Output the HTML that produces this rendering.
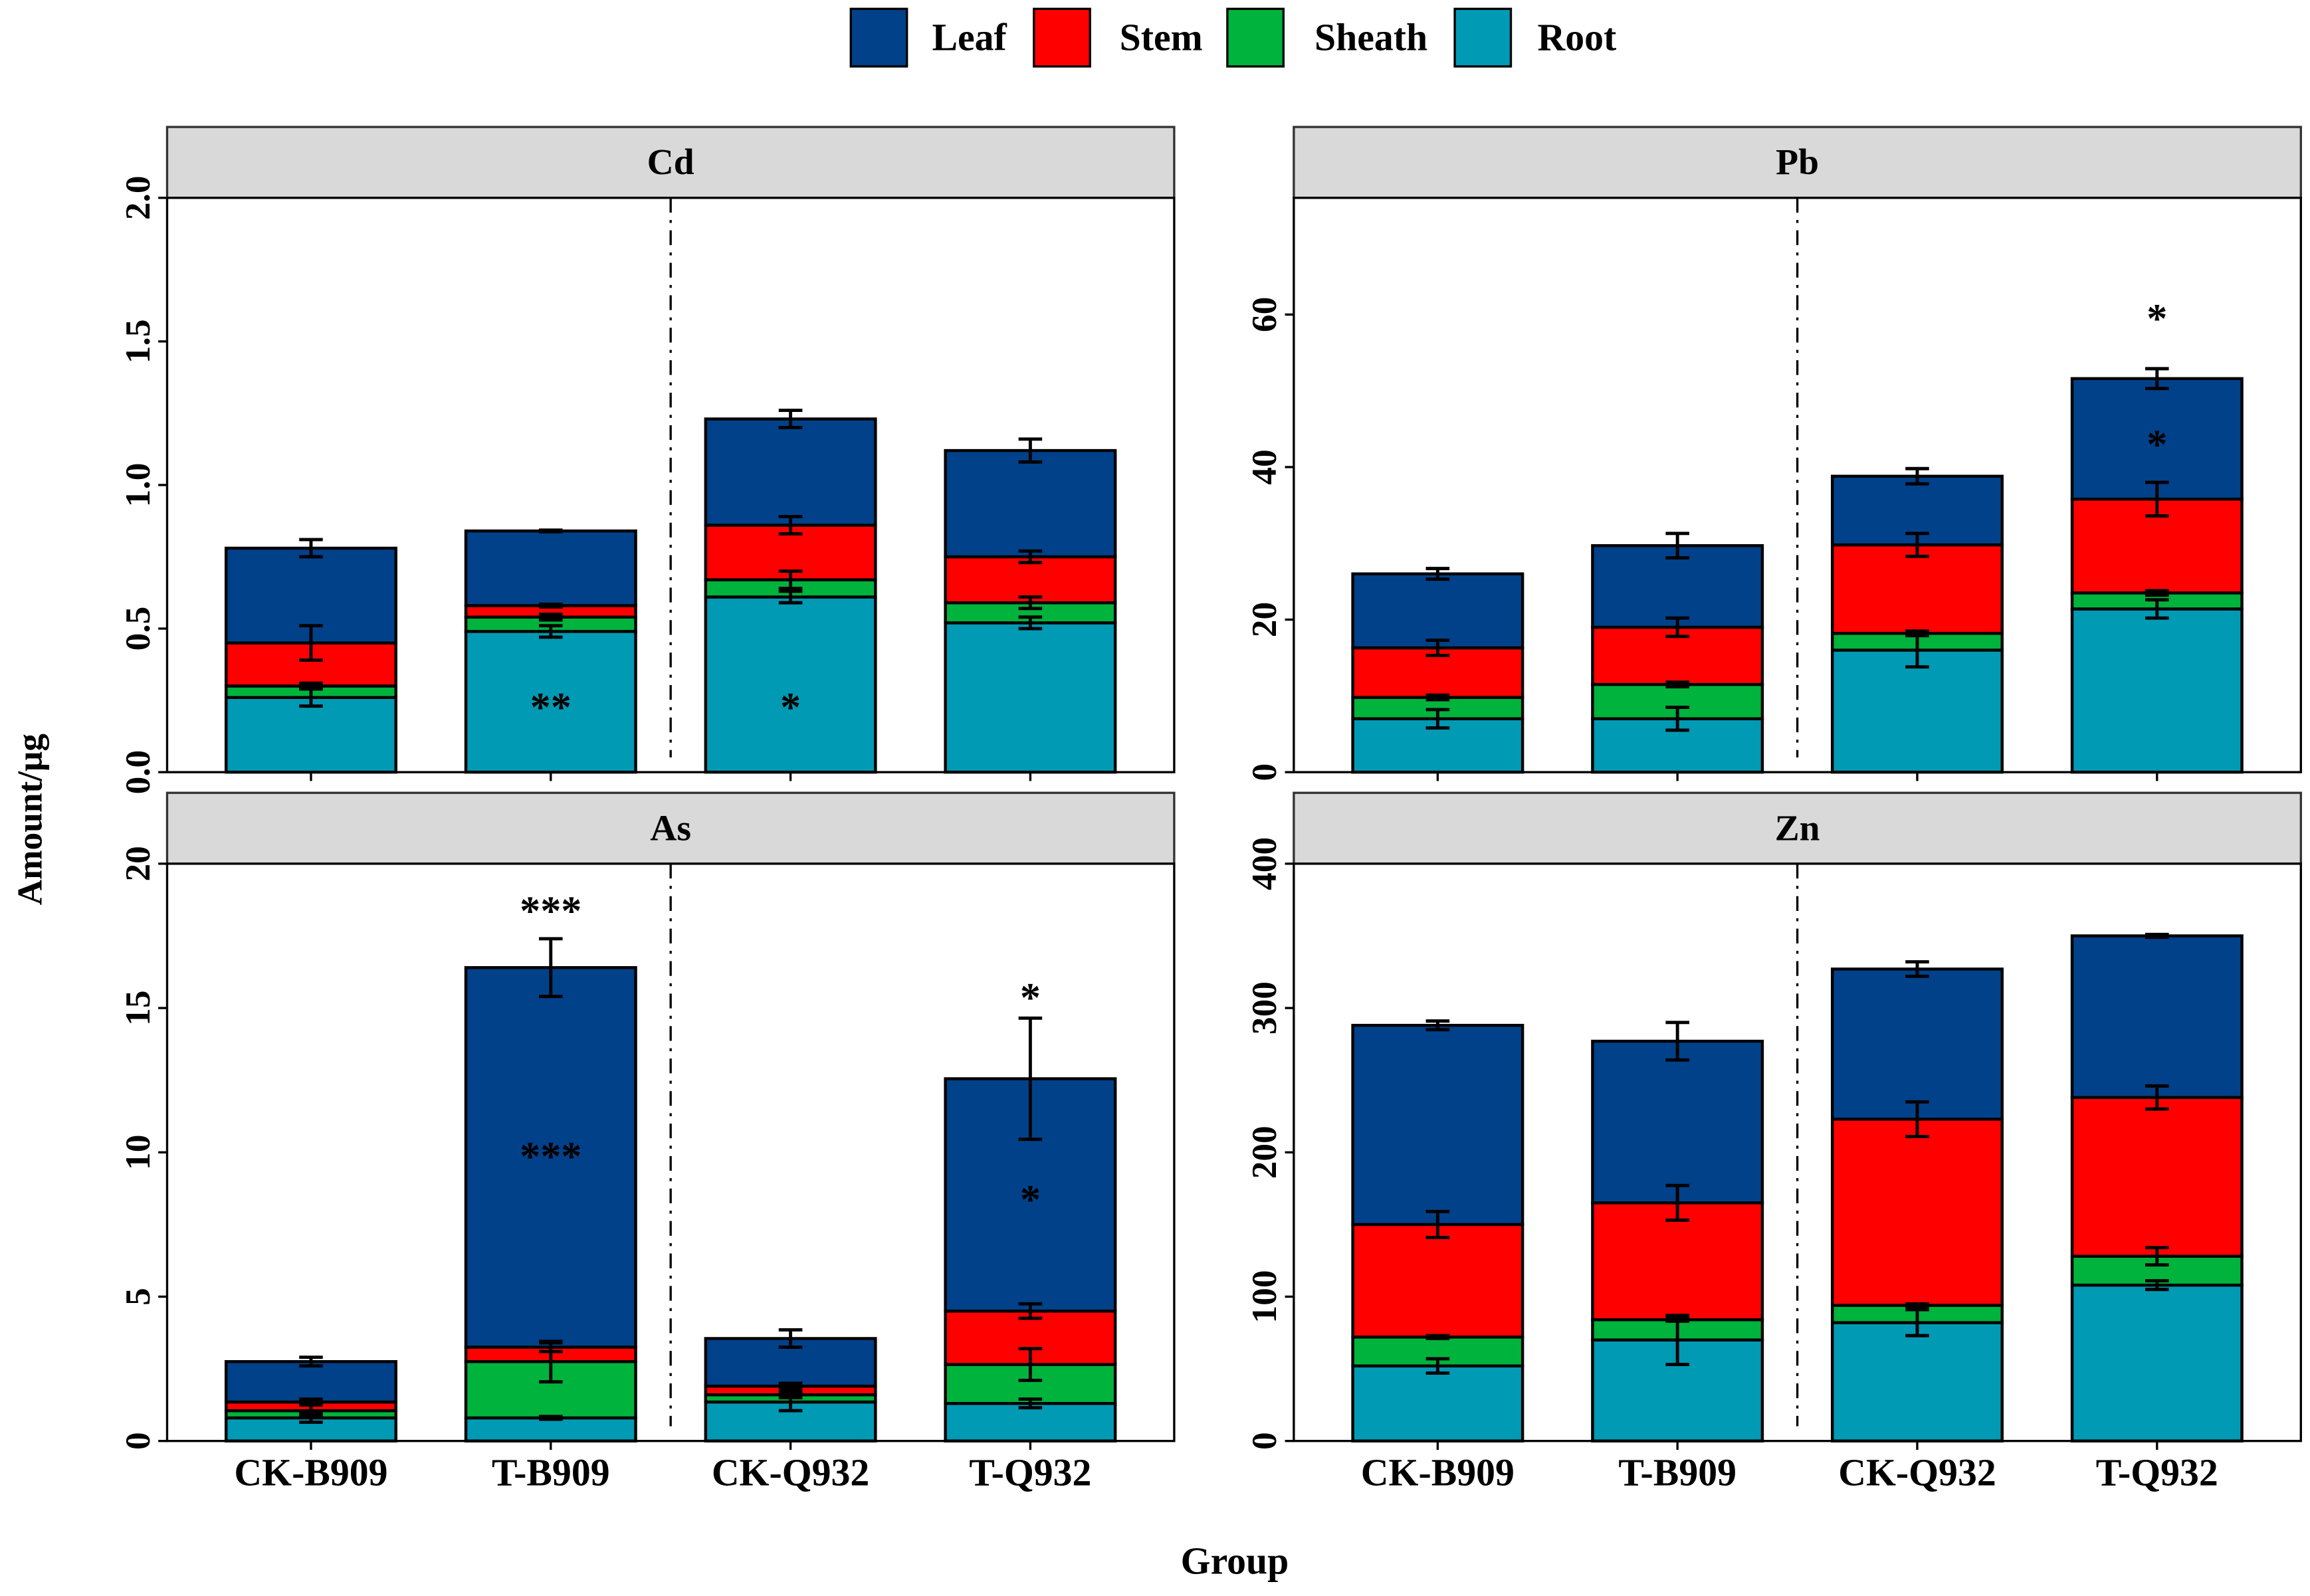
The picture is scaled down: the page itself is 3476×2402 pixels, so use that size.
<!DOCTYPE html>
<html><head><meta charset="utf-8"><title>Stacked metal amounts by tissue</title>
<style>html,body{margin:0;padding:0;background:#fff}svg{display:block}text{font-family:"Liberation Serif",serif;font-weight:bold}</style></head>
<body>
<svg id="chart" width="3476" height="2402" viewBox="0 0 1564 1081" xmlns="http://www.w3.org/2000/svg"></svg>
<script>
const groups = ["CK-B909","T-B909","CK-Q932","T-Q932"];
const tissues = ["Root","Sheath","Stem","Leaf"];
const tissueColors = ["#009ab5","#00b33c","#ff0000","#00418a"];
const panelNames = ["Cd","Pb","As","Zn"];
// Cumulative stack tops per group, order Root, Sheath, Stem, Leaf
const cdTops = [[0.26,0.30,0.45,0.78],[0.49,0.54,0.58,0.84],[0.61,0.67,0.86,1.23],[0.52,0.59,0.75,1.12]];
const cdErr  = [[0.03,0.01,0.06,0.03],[0.02,0.01,0.005,0.003],[0.02,0.03,0.03,0.03],[0.02,0.02,0.02,0.04]];
const pbTops = [[7,9.8,16.3,26],[7,11.5,19,29.7],[16,18.2,29.8,38.8],[21.4,23.5,35.8,51.6]];
const pbErr  = [[1.2,0.3,1,0.7],[1.5,0.3,1.2,1.6],[2.2,0.3,1.5,1],[1.2,0.3,2.2,1.3]];
const asTops = [[0.8,1.05,1.35,2.75],[0.8,2.75,3.25,16.4],[1.35,1.6,1.9,3.55],[1.3,2.65,4.5,12.55]];
const asErr  = [[0.15,0.2,0.1,0.15],[0.05,0.7,0.15,1.0],[0.3,0.1,0.1,0.3],[0.15,0.55,0.25,2.1]];
const znTops = [[52,72,150,288],[70,84,165,277],[82,94,223,327],[108,128,238,350]];
const znErr  = [[5,1,9,3],[17,1,12,13],[9,1,12,5],[3,6,8,1]];
const cdTicks = [0,0.5,1.0,1.5,2.0];
const pbTicks = [0,20,40,60];
const asTicks = [0,5,10,15,20];
const znTicks = [0,100,200,300,400];
// significance marks: [groupIndex, value, label]
const cdSig = [[1,0.24,"**"],[2,0.24,"*"]];
const pbSig = [[3,60,"*"],[3,43.5,"*"]];
const asSig = [[1,18.5,"***"],[1,10,"***"],[3,15.5,"*"],[3,8.5,"*"]];
const znSig = [];

const NS="http://www.w3.org/2000/svg";
const svg=document.getElementById('chart');
function mk(tag,attrs,parent){const e=document.createElementNS(NS,tag);for(const k in attrs)e.setAttribute(k,attrs[k]);(parent||svg).appendChild(e);return e;}

const layout=[
 {x0:113,x1:795,top:134,bot:523,max:2.0,tops:cdTops,err:cdErr,ticks:cdTicks,sig:cdSig,fmt:v=>v.toFixed(1),xl:false},
 {x0:876,x1:1558,top:134,bot:523,max:75.3,tops:pbTops,err:pbErr,ticks:pbTicks,sig:pbSig,fmt:v=>String(v),xl:false},
 {x0:113,x1:795,top:585,bot:976,max:20,tops:asTops,err:asErr,ticks:asTicks,sig:asSig,fmt:v=>String(v),xl:true},
 {x0:876,x1:1558,top:585,bot:976,max:400,tops:znTops,err:znErr,ticks:znTicks,sig:znSig,fmt:v=>String(v),xl:true}
];

layout.forEach((P,pi)=>{
 const g=mk('g',{});
 
 
 const y=v=>P.bot-(v/P.max)*(P.bot-P.top);
 const step=(P.x1-P.x0)/4.2;
 const xc=i=>P.x0+step*(0.6+i);
 const bw=115;
 const strip=mk('rect',{x:P.x0,y:P.top-48,width:P.x1-P.x0,height:48,fill:'#d9d9d9',stroke:'#333','stroke-width':1.5},g);
 
 
 const st=mk('text',{x:(P.x0+P.x1)/2,y:P.top-16,'text-anchor':'middle','font-size':25},g);
 st.textContent=panelNames[pi];
 
 
 const fr=mk('rect',{x:P.x0,y:P.top,width:P.x1-P.x0,height:P.bot-P.top,fill:'#fff',stroke:'#000','stroke-width':1.5},g);
 
 
 const mid=(xc(1)+xc(2))/2;
 const dl=mk('line',{x1:mid,x2:mid,y1:P.top,y2:P.bot-10,stroke:'#000','stroke-width':1.5,'stroke-dasharray':'10 5 2 5'},g);
 
 
 groups.forEach((gn,i)=>{
  let prev=0;
  P.tops[i].forEach((t,s)=>{
   const r=mk('rect',{x:xc(i)-bw/2,y:y(t),width:bw,height:y(prev)-y(t),fill:tissueColors[s],stroke:'#000','stroke-width':2},g);
   
   
   prev=t;
  });
  P.tops[i].forEach((t,s)=>{
   const e=P.err[i][s];
   const eg=mk('g',{stroke:'#000','stroke-width':2.2},g);
   
   
   mk('line',{x1:xc(i),x2:xc(i),y1:y(t-e),y2:y(t+e)},eg);
   mk('line',{x1:xc(i)-8,x2:xc(i)+8,y1:y(t-e),y2:y(t-e)},eg);
   mk('line',{x1:xc(i)-8,x2:xc(i)+8,y1:y(t+e),y2:y(t+e)},eg);
  });
  mk('line',{x1:xc(i),x2:xc(i),y1:P.bot,y2:P.bot+6,stroke:'#000','stroke-width':1.5},g);
  if(P.xl){
   const tl=mk('text',{x:xc(i),y:P.bot+30,'text-anchor':'middle','font-size':26},g);
   tl.textContent=gn;
   
   
  }
 });
 P.ticks.forEach(v=>{
  mk('line',{x1:P.x0-6,x2:P.x0,y1:y(v),y2:y(v),stroke:'#000','stroke-width':1.5},g);
  const tt=mk('text',{x:0,y:0,'text-anchor':'middle','font-size':24,transform:`translate(${P.x0-12},${y(v)}) rotate(-90)`},g);
  tt.textContent=P.fmt(v);
  
  
 });
 P.sig.forEach(sg=>{
  const t=mk('text',{x:xc(sg[0]),y:y(sg[1])+12,'text-anchor':'middle','font-size':28},g);
  t.textContent=sg[2];
  
  
 });
});

// legend
const legX=[576,700,831,985], legTX=[631,758,890,1041];
const legOrder=[3,2,1,0];
legOrder.forEach((s,k)=>{
 const lg=mk('g',{});
 
 
 mk('rect',{x:legX[k],y:6,width:38,height:39,fill:tissueColors[s],stroke:'#000','stroke-width':1.5},lg);
 const t=mk('text',{x:legTX[k],y:34,'font-size':26},lg);
 t.textContent=tissues[s];
});
const yt=mk('text',{x:0,y:0,'text-anchor':'middle','font-size':24,transform:'translate(28,555) rotate(-90)'});
yt.textContent='Amount/μg';


const xt=mk('text',{x:836,y:1066,'text-anchor':'middle','font-size':26});
xt.textContent='Group';


</script>
</body></html>
